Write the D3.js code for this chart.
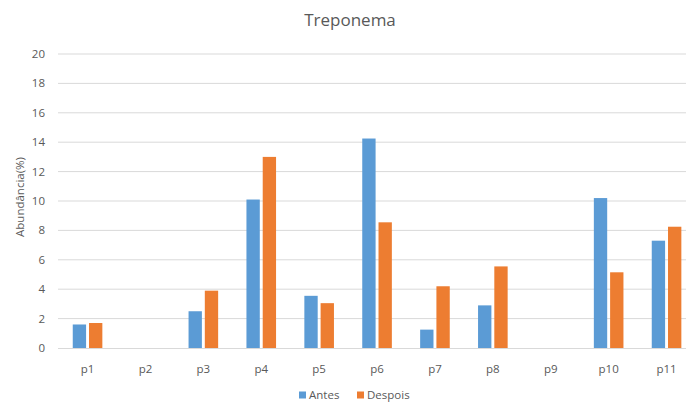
<!DOCTYPE html>
<html>
<head>
<meta charset="utf-8">
<script src="https://cdn.jsdelivr.net/npm/d3@7"></script>
<style>
  body { margin: 0; background: #fff; }
  svg { display: block; font-family: "Open Sans", "Noto Sans", sans-serif; }
</style>
</head>
<body>
<svg id="chart" width="686" height="405"></svg>
<script>
const categories = ["p1", "p2", "p3", "p4", "p5", "p6", "p7", "p8", "p9", "p10", "p11"];
const antes = [1.6, 0, 2.5, 10.1, 3.55, 14.25, 1.25, 2.9, 0, 10.2, 7.3];
const despois = [1.7, 0, 3.9, 13.0, 3.05, 8.55, 4.2, 5.55, 0, 5.15, 8.25];
const seriesNames = ["Antes", "Despois"];
const yTicks = [0, 2, 4, 6, 8, 10, 12, 14, 16, 18, 20];

const colors = { Antes: "#5b9bd5", Despois: "#ed7d31" };
const textColor = "#595959";

let data = categories.map((c, i) => ({ name: c, Antes: antes[i], Despois: despois[i] }));

let svg = d3.select("#chart");

let x0 = d3.scaleBand().domain(categories).range([58.6, 695.5]).padding(0);
let x1 = d3.scaleBand().domain(seriesNames).range([0, x0.bandwidth()])
  .paddingInner(0.18).paddingOuter(0.87);
let y = d3.scaleLinear().domain([0, 20]).range([348, 54]);

// gridlines
svg.append("g")
  .selectAll("line")
  .data(yTicks.filter(t => t > 0))
  .enter()
  .append("line")
  .attr("x1", 58)
  .attr("x2", 686)
  .attr("y1", d => y(d))
  .attr("y2", d => y(d))
  .attr("stroke", "#d9d9d9")
  .attr("stroke-width", 1);

// y tick labels
svg.append("g")
  .selectAll("text")
  .data(yTicks)
  .enter()
  .append("text")
  .attr("x", 45)
  .attr("y", d => y(d))
  .attr("dy", "0.35em")
  .attr("text-anchor", "end")
  .attr("font-size", "11.5px")
  .attr("fill", textColor)
  .text(d => d);

// bars
let groups = svg.append("g")
  .selectAll("g")
  .data(data)
  .enter()
  .append("g")
  .attr("transform", d => "translate(" + x0(d.name) + ",0)");

groups.selectAll("rect")
  .data(d => seriesNames.map(k => ({ key: k, value: d[k] })))
  .enter()
  .append("rect")
  .attr("x", d => x1(d.key))
  .attr("width", x1.bandwidth())
  .attr("y", d => y(d.value))
  .attr("height", d => y(0) - y(d.value))
  .attr("fill", d => colors[d.key]);

// baseline
svg.append("line")
  .attr("x1", 58)
  .attr("x2", 686)
  .attr("y1", y(0) + 0.5)
  .attr("y2", y(0) + 0.5)
  .attr("stroke", "#d9d9d9");

// category labels
svg.append("g")
  .selectAll("text")
  .data(categories)
  .enter()
  .append("text")
  .attr("x", d => x0(d) + x0.bandwidth() / 2)
  .attr("y", 369)
  .attr("dy", "0.35em")
  .attr("text-anchor", "middle")
  .attr("font-size", "11.5px")
  .attr("fill", textColor)
  .text(d => d);

// title
svg.append("text")
  .attr("x", 350)
  .attr("y", 20)
  .attr("dy", "0.35em")
  .attr("text-anchor", "middle")
  .attr("font-size", "17px")
  .attr("fill", textColor)
  .text("Treponema");

// y axis title
svg.append("text")
  .attr("transform", "translate(20,197) rotate(-90)")
  .attr("dy", "0.35em")
  .attr("text-anchor", "middle")
  .attr("font-size", "11.5px")
  .attr("fill", textColor)
  .text("Abundância(%)");

// legend
let legendX = [299, 357];
let legend = svg.append("g")
  .selectAll("g")
  .data(seriesNames)
  .enter()
  .append("g")
  .attr("transform", (d, i) => "translate(" + legendX[i] + ",395)");

legend.append("rect")
  .attr("x", 0)
  .attr("y", -3.5)
  .attr("width", 7)
  .attr("height", 7)
  .attr("fill", d => colors[d]);

legend.append("text")
  .attr("x", 10)
  .attr("y", 0)
  .attr("dy", "0.35em")
  .attr("font-size", "11.5px")
  .attr("fill", textColor)
  .text(d => d);
</script>
</body>
</html>
